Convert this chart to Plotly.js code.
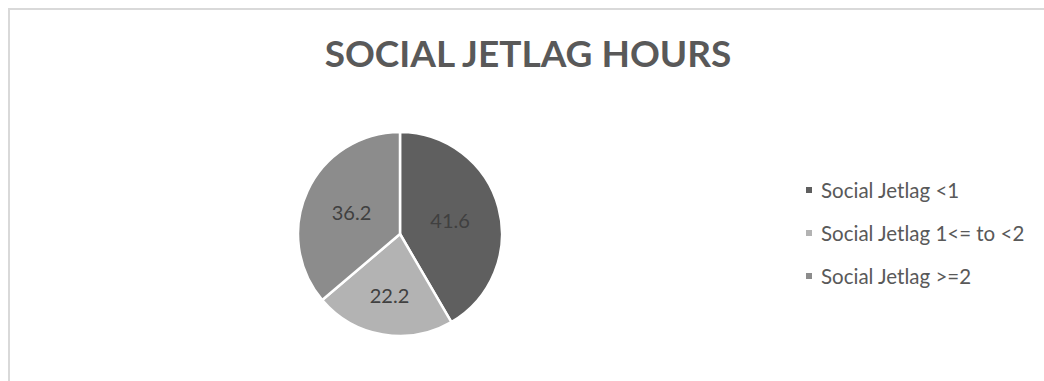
<!DOCTYPE html>
<html>
<head>
<meta charset="utf-8">
<script src="https://cdn.plot.ly/plotly-3.0.1.min.js"></script>
<style>
  html, body { margin: 0; padding: 0; background: #ffffff; }
  #frame { position: absolute; left: 8px; top: 8px; width: 1036px; height: 373px;
           border-top: 2px solid #d9d9d9; border-left: 2px solid #d9d9d9; box-sizing: border-box; }
  #chart { position: absolute; left: 0; top: 0; width: 1044px; height: 381px; }
</style>
</head>
<body>
<div id="frame"></div>
<div id="chart"></div>
<script>
// ---- data ----
const categories = ["Social Jetlag <1", "Social Jetlag 1<= to <2", "Social Jetlag >=2"];
const values = [41.6, 22.2, 36.2];
const chartTitle = "SOCIAL JETLAG HOURS";

// ---- style ----
const sliceColors = ["#5f5f5f", "#b3b3b3", "#8c8c8c"];
const W = 1044, H = 381;

function esc(s) { return s.replace(/&/g, "&amp;").replace(/</g, "&lt;").replace(/>/g, "&gt;"); }

const cx = 400, cy = 234, r = 102;
const trace = {
  type: "pie",
  labels: categories,
  values: values,
  sort: false,
  direction: "clockwise",
  rotation: 0,
  marker: { colors: sliceColors, line: { color: "#ffffff", width: 2.5 } },
  textinfo: "value",
  textposition: "inside",
  insidetextorientation: "horizontal",
  textfont: { family: "Lato, 'Open Sans', sans-serif", size: 20, color: "#404040" },
  domain: { x: [(cx - r) / W, (cx + r) / W], y: [(H - cy - r) / H, (H - cy + r) / H] },
  hoverinfo: "label+value",
  showlegend: false
};

// legend built from categories
const legendX = 806, legendText = 819, legendY0 = 190, legendStep = 43, sq = 6;
const shapes = [], annotations = [];
categories.forEach((c, i) => {
  const y = legendY0 + i * legendStep;
  shapes.push({ type: "rect", xref: "paper", yref: "paper",
    x0: legendX / W, x1: (legendX + sq) / W, y0: (H - y - sq / 2) / H, y1: (H - y + sq / 2) / H,
    fillcolor: sliceColors[i], line: { width: 0 } });
  annotations.push({ xref: "paper", yref: "paper", x: legendText / W, y: (H - y) / H,
    xanchor: "left", yanchor: "middle", showarrow: false, text: esc(c),
    font: { family: "Lato, 'Open Sans', sans-serif", size: 20.5, color: "#595959" } });
});

const layout = {
  width: W, height: H,
  margin: { l: 0, r: 0, t: 0, b: 0 },
  paper_bgcolor: "rgba(0,0,0,0)",
  plot_bgcolor: "rgba(0,0,0,0)",
  title: { text: "<b>" + chartTitle + "</b>", x: 528 / W, xanchor: "center", xref: "paper",
    y: 1 - 54 / H, yref: "container", yanchor: "middle",
    font: { family: "Lato, 'Open Sans', sans-serif", size: 37, color: "#595959" } },
  showlegend: false,
  shapes: shapes,
  annotations: annotations
};

Plotly.newPlot("chart", [trace], layout, { displayModeBar: false, staticPlot: true });
</script>
</body>
</html>
